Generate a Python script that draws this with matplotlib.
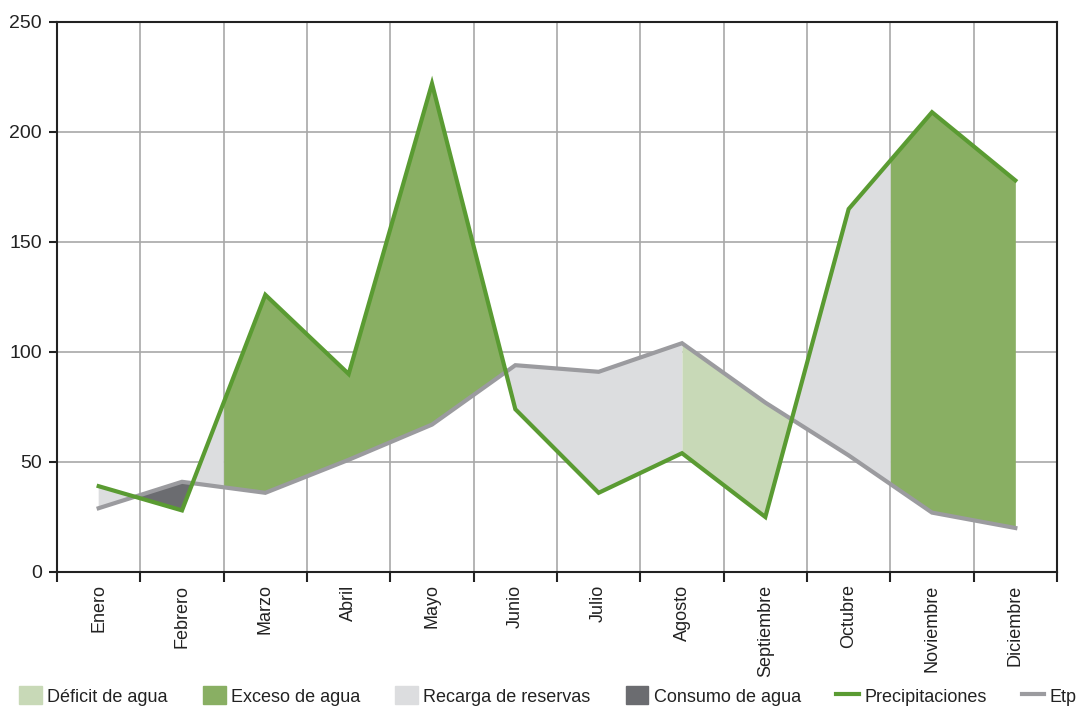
import numpy as np
import matplotlib.pyplot as plt
from matplotlib.patches import Patch
from matplotlib.lines import Line2D

plt.rcParams['font.family'] = ['Liberation Sans', 'DejaVu Sans']

meses = ['Enero', 'Febrero', 'Marzo', 'Abril', 'Mayo', 'Junio', 'Julio',
         'Agosto', 'Septiembre', 'Octubre', 'Noviembre', 'Diciembre']
precipitaciones = [39, 28, 126, 90, 222, 74, 36, 54, 25, 165, 209, 178]
etp = [29, 41, 36, 51, 67, 94, 91, 104, 77, 53, 27, 20]

# colours
c_deficit = '#c8d9b7'
c_exceso = '#89af63'
c_recarga = '#dcdddf'
c_consumo = '#6b6c70'
c_prec = '#5a9b32'
c_etp = '#9b9b9f'

# periods of the water balance: (start, end, colour when P > Etp, colour when P < Etp)
periodos = [(0, 1.5, c_recarga, c_consumo),
            (1.5, 7, c_exceso, c_recarga),
            (7, 9.5, c_recarga, c_deficit),
            (9.5, 11, c_exceso, c_deficit)]

x = np.arange(len(meses))
p = np.array(precipitaciones, dtype=float)
e = np.array(etp, dtype=float)

fig = plt.figure(figsize=(10.76, 7.10), dpi=100)
ax = fig.add_axes([57 / 1076, 1 - 572 / 710, 1000 / 1076, 550 / 710])

# fill between the two curves, split by period and by which one is on top
xf = np.linspace(0, 11, 1101)
pf = np.interp(xf, x, p)
ef = np.interp(xf, x, e)
for x0, x1, c_up, c_down in periodos:
    m = (xf >= x0 - 1e-9) & (xf <= x1 + 1e-9)
    ax.fill_between(xf[m], pf[m], ef[m], where=pf[m] >= ef[m], interpolate=True,
                    color=c_up, lw=0, zorder=2)
    ax.fill_between(xf[m], pf[m], ef[m], where=pf[m] <= ef[m], interpolate=True,
                    color=c_down, lw=0, zorder=2)

ax.plot(x, e, color=c_etp, lw=3, zorder=3, solid_joinstyle='miter')
ax.plot(x, p, color=c_prec, lw=3, zorder=4, solid_joinstyle='miter')

ax.set_xlim(-0.5, 11.5)
ax.set_ylim(0, 250)
ax.set_yticks(range(0, 251, 50))
ax.set_xticks(x)
ax.set_xticklabels(meses, rotation=90)
ax.set_xticks(np.arange(-0.5, 12, 1), minor=True)
ax.tick_params(axis='x', which='major', length=0, pad=9, labelsize=13, labelcolor='#222222')
ax.tick_params(axis='x', which='minor', length=7, width=1.5, color='#222222')
ax.tick_params(axis='y', length=6, width=1.5, color='#222222', pad=5, labelsize=14,
               labelcolor='#222222')

ax.grid(True, which='minor', axis='x', color='#a8a8a8', lw=1.2, zorder=0)
ax.grid(True, which='major', axis='y', color='#a8a8a8', lw=1.2, zorder=0)
ax.set_axisbelow(True)
for s in ax.spines.values():
    s.set_color('#222222')
    s.set_linewidth(1.5)

handles = [Patch(color=c_deficit, label='Déficit de agua'),
           Patch(color=c_exceso, label='Exceso de agua'),
           Patch(color=c_recarga, label='Recarga de reservas'),
           Patch(color=c_consumo, label='Consumo de agua'),
           Line2D([], [], color=c_prec, lw=3, label='Precipitaciones'),
           Line2D([], [], color=c_etp, lw=3, label='Etp')]
fig.legend(handles=handles, loc='center', bbox_to_anchor=(548 / 1076, 1 - 696 / 710),
           ncol=6, frameon=False, fontsize=13, handlelength=1.25, handleheight=1.15,
           handletextpad=0.3, columnspacing=1.95, borderpad=0, borderaxespad=0,
           labelcolor='#222222')

fig.savefig('out.png', dpi=100)
